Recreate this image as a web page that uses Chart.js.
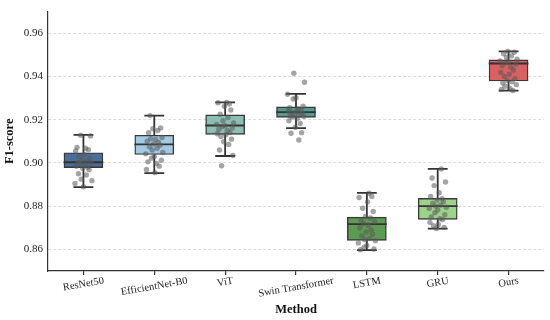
<!DOCTYPE html>
<html>
<head>
<meta charset="utf-8">
<script src="https://cdn.jsdelivr.net/npm/chart.js@4/dist/chart.umd.min.js"></script>
<style>
  html, body { margin: 0; padding: 0; background: #fff; }
</style>
</head>
<body>
<canvas id="chart" width="550" height="320"></canvas>
<script>
const methods = ['ResNet50', 'EfficientNet-B0', 'ViT', 'Swin Transformer', 'LSTM', 'GRU', 'Ours'];
const whiskerLow  = [0.8888, 0.8953, 0.9032, 0.9161, 0.8597, 0.8696, 0.9334];
const q1          = [0.8978, 0.9039, 0.9132, 0.9211, 0.8642, 0.8739, 0.9379];
const median      = [0.9003, 0.9086, 0.9173, 0.9235, 0.8717, 0.8800, 0.9460];
const q3          = [0.9047, 0.9128, 0.9222, 0.9259, 0.8749, 0.8836, 0.9477];
const whiskerHigh = [0.9130, 0.9219, 0.9280, 0.9319, 0.8861, 0.8972, 0.9516];
const yTicks = [0.86, 0.88, 0.90, 0.92, 0.94, 0.96];

// individual run scores (strip points)
const scoresResNet50 = [0.9128, 0.9125, 0.9072, 0.9068, 0.9061, 0.9055, 0.9040, 0.9030, 0.9022, 0.9012, 0.9008, 0.9003, 0.9000,
  0.8998, 0.8992, 0.8985, 0.8980, 0.8975, 0.8968, 0.8950, 0.8944, 0.8925, 0.8918, 0.8905, 0.8890];
const scoresEffNet = [0.9219, 0.9162, 0.9158, 0.9150, 0.9140, 0.9118, 0.9112, 0.9108, 0.9100, 0.9095, 0.9088, 0.9082, 0.9075,
  0.9068, 0.9060, 0.9048, 0.9042, 0.9030, 0.9022, 0.9012, 0.9005, 0.8998, 0.8985, 0.8970, 0.8955];
const scoresViT = [0.9280, 0.9278, 0.9272, 0.9262, 0.9245, 0.9225, 0.9210, 0.9195, 0.9185, 0.9178, 0.9172, 0.9168, 0.9162,
  0.9155, 0.9150, 0.9140, 0.9135, 0.9130, 0.9122, 0.9110, 0.9098, 0.9085, 0.9060, 0.9035, 0.8987];
const scoresSwin = [0.9415, 0.9373, 0.9318, 0.9302, 0.9296, 0.9262, 0.9255, 0.9250, 0.9245, 0.9240, 0.9238, 0.9234, 0.9230,
  0.9226, 0.9222, 0.9218, 0.9215, 0.9212, 0.9205, 0.9195, 0.9182, 0.9165, 0.9140, 0.9137, 0.9106];
const scoresLSTM = [0.8860, 0.8845, 0.8840, 0.8820, 0.8790, 0.8775, 0.8752, 0.8745, 0.8735, 0.8728, 0.8720, 0.8712, 0.8700,
  0.8690, 0.8680, 0.8670, 0.8662, 0.8650, 0.8645, 0.8640, 0.8630, 0.8618, 0.8610, 0.8602, 0.8598];
const scoresGRU = [0.8972, 0.8930, 0.8912, 0.8895, 0.8862, 0.8845, 0.8835, 0.8828, 0.8820, 0.8812, 0.8805, 0.8800, 0.8795,
  0.8790, 0.8782, 0.8770, 0.8760, 0.8750, 0.8742, 0.8738, 0.8725, 0.8715, 0.8710, 0.8702, 0.8697];
const scoresOurs = [0.9516, 0.9512, 0.9505, 0.9495, 0.9488, 0.9480, 0.9472, 0.9468, 0.9462, 0.9458, 0.9450, 0.9442, 0.9430,
  0.9418, 0.9410, 0.9400, 0.9390, 0.9382, 0.9375, 0.9370, 0.9362, 0.9355, 0.9345, 0.9340, 0.9335];
const allScores = [scoresResNet50, scoresEffNet, scoresViT, scoresSwin, scoresLSTM, scoresGRU, scoresOurs];

// fixed horizontal jitter (in category units)
const jitter = [-0.04, 0.10, -0.09, 0.03, 0.07, -0.11, 0.01, -0.06, 0.09, -0.02, 0.05, -0.08, 0.11,
  -0.05, 0.02, -0.10, 0.06, -0.01, 0.08, -0.07, 0.04, -0.03, 0.12, -0.12, 0.00];

const boxColors = ['#4a6d99', '#a3c9e3', '#8dbeb4', '#569892', '#5d9a52', '#9ed289', '#d96160'];

const serif = '"Liberation Serif", "Times New Roman", serif';
const capHalf = 0.14, boxHalf = 0.28;

const boxData = methods.map((m, i) => ({ x: i, y: [q1[i], q3[i]] }));

const lineData = [];
methods.forEach((m, i) => {
  lineData.push({ x: i, y: whiskerLow[i] }, { x: i, y: q1[i] }, { x: i, y: null });
  lineData.push({ x: i, y: q3[i] }, { x: i, y: whiskerHigh[i] }, { x: i, y: null });
  lineData.push({ x: i - capHalf, y: whiskerLow[i] }, { x: i + capHalf, y: whiskerLow[i] }, { x: i, y: null });
  lineData.push({ x: i - capHalf, y: whiskerHigh[i] }, { x: i + capHalf, y: whiskerHigh[i] }, { x: i, y: null });
  lineData.push({ x: i - boxHalf, y: median[i] }, { x: i + boxHalf, y: median[i] }, { x: i, y: null });
});

const pointData = [];
allScores.forEach((arr, i) => {
  arr.forEach((v, j) => pointData.push({ x: i + jitter[(j + 7 * i) % jitter.length], y: v }));
});

const xLabelPlugin = {
  id: 'xLabels',
  afterDraw(chart) {
    const { ctx, chartArea } = chart;
    const xs = chart.scales.x;
    const ang = -10 * Math.PI / 180;
    const fs = 10.5;
    ctx.save();
    ctx.font = fs + 'px ' + serif;
    ctx.fillStyle = '#222';
    ctx.textAlign = 'center';
    ctx.textBaseline = 'middle';
    methods.forEach((m, i) => {
      const w = ctx.measureText(m).width;
      const h = w * Math.sin(-ang) + fs * Math.cos(ang);
      const px = xs.getPixelForValue(i);
      const py = chartArea.bottom + 4.5 + h / 2;
      ctx.save();
      ctx.translate(px, py);
      ctx.rotate(ang);
      ctx.fillText(m, 0, 0);
      ctx.restore();
    });
    ctx.restore();
  }
};

new Chart(document.getElementById('chart'), {
  type: 'bar',
  data: {
    datasets: [{
      type: 'bar',
      data: boxData,
      backgroundColor: boxColors,
      borderColor: '#383838',
      borderWidth: 1.4,
      borderSkipped: false,
      barThickness: 39,
      order: 3
    }, {
      type: 'line',
      data: lineData,
      borderColor: '#333',
      borderWidth: 1.8,
      pointRadius: 0,
      spanGaps: false,
      fill: false,
      order: 2
    }, {
      type: 'scatter',
      data: pointData,
      backgroundColor: 'rgba(90,90,90,0.55)',
      borderWidth: 0,
      pointRadius: 2.7,
      order: 1
    }]
  },
  options: {
    responsive: false,
    animation: false,
    layout: { padding: { top: 4, right: 6, left: 0, bottom: 0 } },
    plugins: { legend: { display: false }, tooltip: { enabled: false } },
    scales: {
      x: {
        type: 'linear',
        min: -0.5,
        max: 6.5,
        offset: false,
        afterBuildTicks: s => { s.ticks = methods.map((m, i) => ({ value: i })); },
        afterFit: s => { s.height = 49; },
        ticks: { display: false },
        grid: { display: true, offset: false, drawOnChartArea: false, drawTicks: true, tickLength: 4, color: '#333', lineWidth: 1.2 },
        border: { display: true, color: '#333', width: 1.2 },
        title: {
          display: true, text: 'Method', color: '#111',
          font: { family: serif, size: 12.5, weight: 'bold' },
          padding: { top: 0, bottom: 3 }
        }
      },
      y: {
        min: 0.85,
        max: 0.97,
        afterBuildTicks: s => { s.ticks = yTicks.map(v => ({ value: v })); },
        afterFit: s => { s.width = 48; },
        ticks: {
          color: '#222', padding: 5,
          font: { family: serif, size: 11 },
          callback: v => v.toFixed(2)
        },
        grid: { color: '#d2d2d2', lineWidth: 0.8, drawTicks: false },
        border: { display: true, color: '#333', width: 1.2, dash: [3, 2] },
        title: {
          display: true, text: 'F1-score', color: '#111',
          font: { family: serif, size: 12.5, weight: 'bold' },
          padding: { top: 2, bottom: 0 }
        }
      }
    }
  },
  plugins: [xLabelPlugin]
});
</script>
</body>
</html>
